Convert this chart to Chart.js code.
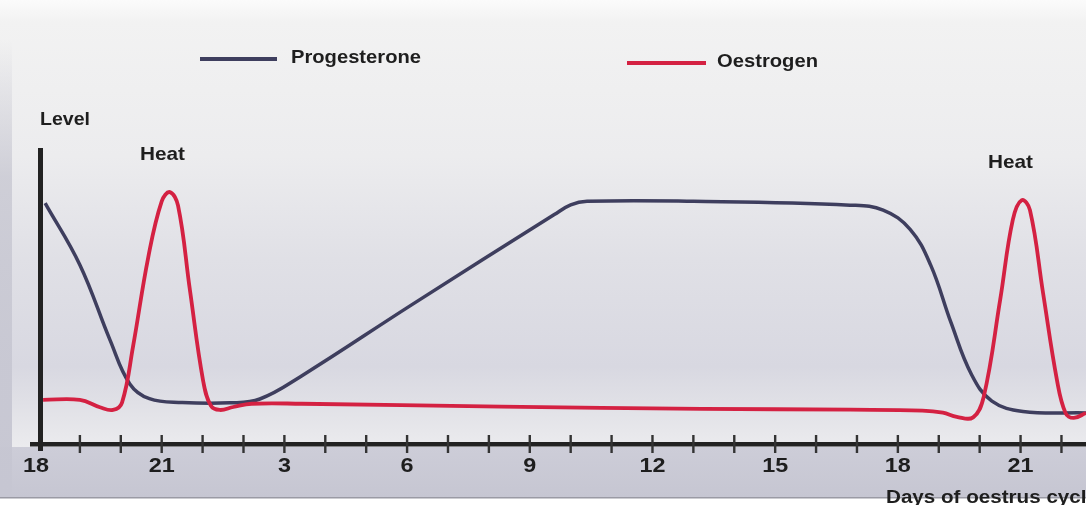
<!DOCTYPE html>
<html>
<head>
<meta charset="utf-8">
<script src="https://cdn.jsdelivr.net/npm/chart.js@4"></script>
<style>
    body { margin: 0; background: #fff; }
    #cycleChart { display: block; }
</style>
</head>
<body>
<canvas id="cycleChart" width="1086" height="505"></canvas>
<script>
'use strict';

// x values are positions along the axis in days from the first tick (day 18)
const progDays = [0.15, 1.0, 1.74, 2.22, 2.7, 3.5, 4.67, 5.4, 6.42, 9.11, 12.6, 13.0, 13.4, 16.0, 19.83, 20.64, 21.3, 21.8, 22.3, 22.8, 23.3, 24.06, 25.6];
const progLevels = [81.4, 60.5, 35, 20.3, 15.3, 14, 13.9, 15.2, 23, 47, 77.5, 80.8, 82, 82, 80.7, 79, 72.5, 60.5, 41, 23.5, 14.5, 11, 10.5];

const oestDays = [0.1, 1.0, 1.49, 1.81, 2.03, 2.3, 2.67, 3.0, 3.2, 3.4, 3.69, 4.01, 4.2, 4.42, 4.75, 5.2, 6.42, 11.3, 16.2, 19.83, 21.6, 22.1, 22.44, 22.84, 23.1, 23.5, 23.81, 24.03, 24.23, 24.55, 24.89, 25.1, 25.3, 25.6];
const oestLevels = [14.9, 14.9, 12.4, 11.5, 14, 33, 63, 82, 85.1, 80.5, 52, 21.6, 13, 11.5, 12.5, 13.6, 13.6, 12.6, 11.9, 11.6, 11.3, 10.6, 9.2, 9.0, 16, 48.6, 75.7, 82.4, 79, 51, 21.6, 10.5, 8.8, 10.5];

const tickDays = [0, 3, 6, 9, 12, 15, 18, 21, 24];
const tickLabels = ['18', '21', '3', '6', '9', '12', '15', '18', '21'];

const navy = '#3e3e5e';
const red = '#d42142';
const ink = '#1e1e1e';

function points(xs, ys) {
    return xs.map((x, i) => ({ x: x, y: ys[i] }));
}

function drawText(ctx, text, x, y, size, width, align) {
    ctx.font = `bold ${size}px "Liberation Sans", Arial, sans-serif`;
    const w = ctx.measureText(text).width;
    const sx = width ? width / w : 1;
    ctx.save();
    ctx.translate(x, y);
    ctx.scale(sx, 1);
    ctx.textAlign = align || 'left';
    ctx.textBaseline = 'alphabetic';
    ctx.fillStyle = ink;
    ctx.fillText(text, 0, 0);
    ctx.restore();
}

const backdrop = {
    id: 'backdrop',
    beforeDraw(chart) {
        const ctx = chart.ctx;
        const W = chart.width;
        ctx.save();
        let g = ctx.createLinearGradient(0, 0, 0, 447);
        g.addColorStop(0, '#fbfbfb');
        g.addColorStop(0.05, '#f2f2f2');
        g.addColorStop(0.35, '#ececee');
        g.addColorStop(0.58, '#e0e0e6');
        g.addColorStop(0.82, '#d8d8e1');
        g.addColorStop(0.9, '#e0e0e6');
        g.addColorStop(1, '#ebebee');
        ctx.fillStyle = g;
        ctx.fillRect(0, 0, W, 447);

        g = ctx.createLinearGradient(0, 447, 0, 497);
        g.addColorStop(0, '#cdcdd8');
        g.addColorStop(1, '#c6c6d2');
        ctx.fillStyle = g;
        ctx.fillRect(0, 447, W, 50);

        g = ctx.createLinearGradient(0, 40, 0, 497);
        g.addColorStop(0, 'rgba(200,200,210,0)');
        g.addColorStop(0.3, 'rgba(200,200,210,0.8)');
        g.addColorStop(1, 'rgba(198,198,210,1)');
        ctx.fillStyle = g;
        ctx.fillRect(0, 40, 12, 457);

        ctx.fillStyle = '#ffffff';
        ctx.fillRect(0, 498, W, 7);
        ctx.fillStyle = '#9a9aa4';
        ctx.fillRect(0, 497, W, 1.5);
        ctx.restore();
    },
    afterDatasetsDraw(chart) {
        const ctx = chart.ctx;
        const xs = chart.scales.x;
        const ys = chart.scales.y;
        const y0 = ys.getPixelForValue(0);
        const x0 = xs.getPixelForValue(0);
        ctx.save();
        ctx.fillStyle = '#222';
        // axes
        ctx.fillRect(30, y0 - 2, chart.width - 30, 4.5);
        ctx.fillRect(x0 - 1, ys.getPixelForValue(100), 5, y0 - ys.getPixelForValue(100) + 7);
        // day ticks
        ctx.fillStyle = '#333';
        for (let d = 1; d <= 25; d++) {
            const px = xs.getPixelForValue(d);
            ctx.fillRect(px - 1.2, y0 - 9, 2.4, 18);
        }
        tickDays.forEach((d, i) => {
            const px = i === 0 ? xs.getPixelForValue(d) - 3 : xs.getPixelForValue(d);
            drawText(ctx, tickLabels[i], px, y0 + 28, 20, tickLabels[i].length * 13, 'center');
        });
        drawText(ctx, 'Days of oestrus cycle', 886, 503, 18, 212);

        drawText(ctx, 'Level', 40, 125, 19, 50);
        drawText(ctx, 'Heat', 140, 160, 19, 45);
        drawText(ctx, 'Heat', 988, 168, 19, 45);

        // legend
        ctx.lineWidth = 4;
        ctx.strokeStyle = navy;
        ctx.beginPath();
        ctx.moveTo(200, 59);
        ctx.lineTo(277, 59);
        ctx.stroke();
        drawText(ctx, 'Progesterone', 291, 63, 19, 130);
        ctx.strokeStyle = red;
        ctx.beginPath();
        ctx.moveTo(627, 63);
        ctx.lineTo(706, 63);
        ctx.stroke();
        drawText(ctx, 'Oestrogen', 717, 67, 19, 101);
        ctx.restore();
    }
};

new Chart(document.getElementById('cycleChart').getContext('2d'), {
    type: 'line',
    data: {
        datasets: [{
            label: 'Progesterone',
            data: points(progDays, progLevels),
            borderColor: navy,
            borderWidth: 3.5,
            pointRadius: 0,
            tension: 0.4,
            fill: false,
            order: 1
        }, {
            label: 'Oestrogen',
            data: points(oestDays, oestLevels),
            borderColor: red,
            borderWidth: 3.8,
            pointRadius: 0,
            tension: 0.4,
            fill: false,
            order: 0
        }]
    },
    options: {
        responsive: false,
        animation: false,
        layout: { padding: { left: 39, right: 0, top: 148, bottom: 61 } },
        plugins: {
            legend: { display: false },
            tooltip: { enabled: false }
        },
        scales: {
            x: { type: 'linear', min: 0, max: 25.6, display: false },
            y: { min: 0, max: 100, display: false }
        }
    },
    plugins: [backdrop]
});
</script>
</body>
</html>
